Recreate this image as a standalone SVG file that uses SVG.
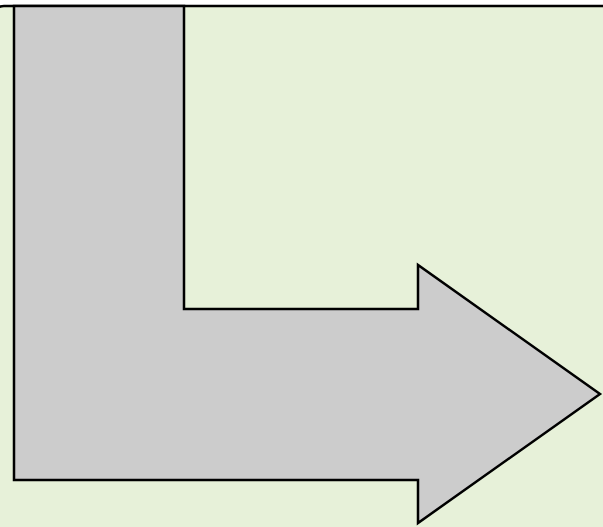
<svg xmlns="http://www.w3.org/2000/svg" width="603" height="527" viewBox="0 0 603 527">
  <style>
    .panel { fill: #e7f1d9; stroke: #000; stroke-width: 2.5; }
    .arrow { fill: #cccccc; stroke: #000; stroke-width: 2.5; stroke-linejoin: miter; }
  </style>
  <rect width="603" height="527" fill="#ffffff"/>
  <!-- background panel -->
  <rect class="panel" x="-8" y="6" width="630" height="540" rx="12"/>
  <!-- bent arrow -->
  <g id="bent-arrow">
    <path class="arrow" d="M14,6 L184,6 L184,309 L418,309 L418,265 L600,394 L418,523 L418,480 L14,480 Z"/>
  </g>
</svg>
